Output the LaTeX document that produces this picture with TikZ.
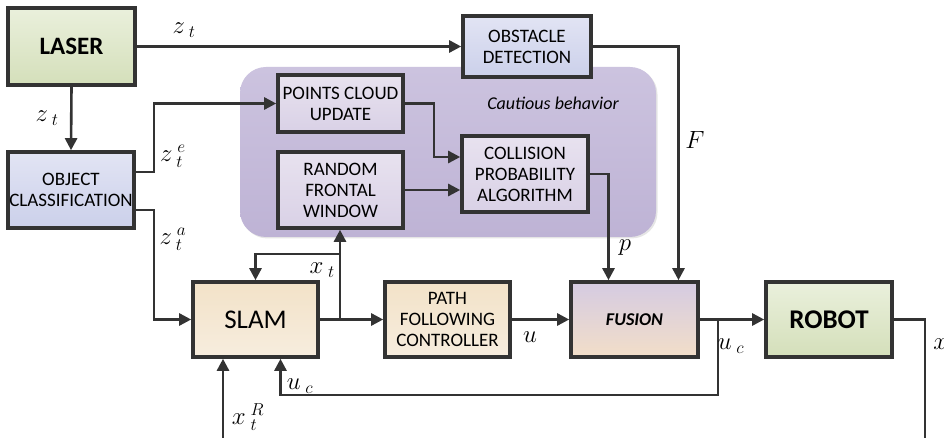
\documentclass[tikz,border=0pt]{standalone}
\usepackage{fontspec}
\setmainfont{Carlito}
\usetikzlibrary{arrows.meta,shadows,calc}
\definecolor{ln}{HTML}{333333}
\begin{document}
\begin{tikzpicture}[x=1pt,y=-1pt,
  box/.style={draw=ln,line width=3.6pt,align=center,inner sep=1pt,
    font=\fontsize{19}{21}\selectfont,
    drop shadow={shadow xshift=1.5pt,shadow yshift=-1.5pt,opacity=0.25}},
  greenbox/.style={box,top color=green1,bottom color=green2},
  bluebox/.style={box,top color=blue1,bottom color=blue2},
  lavbox/.style={box,top color=lav1,bottom color=lav2},
  tanbox/.style={box,top color=tan1,bottom color=tan2},
  arr/.style={draw=ln,line width=2.6pt,-{Triangle[length=12pt,width=12pt]}},
  ln/.style={draw=ln,line width=2.6pt},
  lab/.style={font=\fontsize{23}{23}\selectfont,inner sep=0pt}
]
\definecolor{green1}{HTML}{EAF0DC}
\definecolor{green2}{HTML}{D4DFBA}
\definecolor{blue1}{HTML}{E2E4F4}
\definecolor{blue2}{HTML}{CBD0EA}
\definecolor{lav1}{HTML}{E8E2EF}
\definecolor{lav2}{HTML}{D9D1E6}
\definecolor{tan1}{HTML}{F2E2C8}
\definecolor{tan2}{HTML}{F7EDDE}
\definecolor{reg1}{HTML}{CCC3DF}
\definecolor{reg2}{HTML}{BEB3D5}
\definecolor{fus1}{HTML}{D5CBE2}
\definecolor{fus2}{HTML}{F2DEC8}
\useasboundingbox (0,0) rectangle (944,438);
\fill[white] (0,0) rectangle (944,438);

% region
\node[draw=none,rounded corners=26pt,top color=reg1,bottom color=reg2,
  minimum width=416pt,minimum height=170pt,
  drop shadow={shadow xshift=1.5pt,shadow yshift=-1.5pt,opacity=0.2}] (reg) at (448,152) {};
\node[font=\fontsize{18}{20}\selectfont\itshape] (cb) at (553,103) {Cautious behavior};

% boxes
\node[greenbox,minimum width=127pt,minimum height=77pt,font=\fontsize{25}{27}\selectfont\bfseries] (laser) at (71.5,46.5) {LASER};
\node[bluebox,minimum width=126pt,minimum height=76pt] (obj) at (71,190) {OBJECT\\CLASSIFICATION};
\node[bluebox,minimum width=128pt,minimum height=61pt] (obst) at (527,46.5) {OBSTACLE\\DETECTION};
\node[lavbox,minimum width=125pt,minimum height=57pt] (pts) at (340.5,103.5) {POINTS CLOUD\\UPDATE};
\node[lavbox,minimum width=125pt,minimum height=76pt] (rnd) at (340.5,190) {RANDOM\\FRONTAL\\WINDOW};
\node[lavbox,minimum width=126pt,minimum height=76pt] (coll) at (525,174) {COLLISION\\PROBABILITY\\ALGORITHM};
\node[tanbox,minimum width=125pt,minimum height=75pt,font=\fontsize{27}{29}\selectfont] (slam) at (255.5,319.5) {SLAM};
\node[tanbox,minimum width=125pt,minimum height=75pt] (path) at (447.5,319.5) {PATH\\FOLLOWING\\CONTROLLER};
\node[box,top color=fus1,bottom color=fus2,minimum width=127pt,minimum height=75pt,font=\fontsize{18}{20}\selectfont\bfseries\itshape] (fus) at (634.5,319.5) {FUSION};
\node[greenbox,minimum width=126pt,minimum height=75pt,font=\fontsize{27}{29}\selectfont\bfseries] (robot) at (829,319.5) {ROBOT};

% coordinates
\coordinate (br) at (340,319.5);
\coordinate (xt) at (340,254);
\coordinate (br2) at (718,319.5);
\coordinate (ucb) at (718,395);
\coordinate (rc) at (925,319.5);
\coordinate (rend) at (925,440);
\coordinate (xin) at (223,440);

% connectors
\draw[arr] (laser.east) -- (obst.west);
\draw[arr] (laser.south) -- (obj.north);
\draw[arr] ([yshift=18pt]obj.east) -- ++(18,0) |- (pts.west);
\draw[arr] ([yshift=-20pt]obj.east) -- ++(18,0) |- (slam.west);
\draw[arr] (pts.east) -- ++(29,0) |- ([yshift=17pt]coll.west);
\draw[arr] (rnd.east) -- (rnd.east -| coll.west);
\draw[arr] (slam.east) -- (path.west);
\draw[arr] (br) -- (br |- rnd.south);
\draw[arr] (xt) -| (slam.north);
\draw[arr] (path.east) -- (fus.west);
\draw[arr] (coll.east) -| ([xshift=-26pt]fus.north);
\draw[arr] (obst.east) -| ([xshift=44pt]fus.north);
\draw[arr] (fus.east) -- (robot.west);
\draw[arr] (br2) -- (ucb) -| ([xshift=25pt]slam.south);
\draw[ln] (robot.east) -- (rc) -- (rend);
\draw[arr] (xin) -- (xin |- slam.south);

% labels
\node[lab] (l1) at (184,30) {$z_{\;t}$};
\node[lab] (l2) at (47,118) {$z_{\;t}$};
\node[lab] (l3) at (173,156) {$z_{\;t}^{\;e}$};
\node[lab] (l4) at (173,239) {$z_{\;t}^{\;a}$};
\node[lab,anchor=east] (l5) at (335,270) {$x_{\;t}$};
\node[lab] (l6) at (530,337) {$u$};
\node[lab] (l7) at (625,248) {$p$};
\node[font=\fontsize{26}{26}\selectfont] (l8) at (695,140) {$F$};
\node[lab] (l9) at (731,346) {$u_{\;c}$};
\node[lab] (l10) at (300,386) {$u_{\;c}$};
\node[lab] (l11) at (248,417) {$x_{\;t}^{\;R}$};
\node[lab] (l12) at (946,346) {$x_{\;t}$};
\end{tikzpicture}
\end{document}
